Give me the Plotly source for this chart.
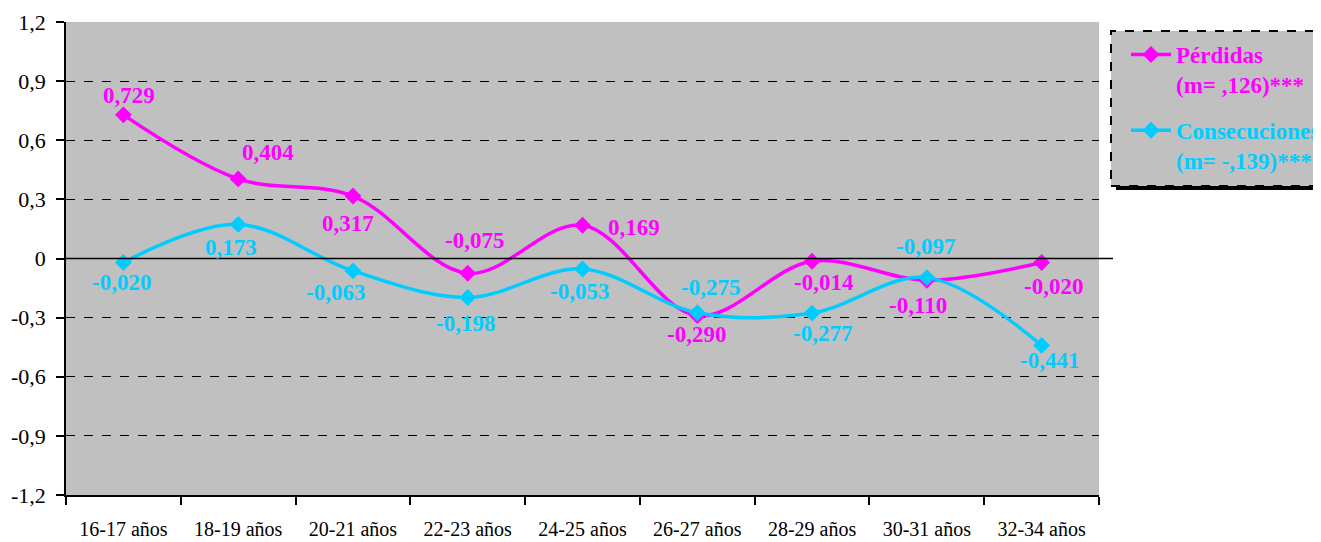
import plotly.graph_objects as go

categories = ["16-17 años", "18-19 años", "20-21 años", "22-23 años", "24-25 años",
              "26-27 años", "28-29 años", "30-31 años", "32-34 años"]
perdidas = [0.729, 0.404, 0.317, -0.075, 0.169, -0.290, -0.014, -0.110, -0.020]
consecuciones = [-0.020, 0.173, -0.063, -0.198, -0.053, -0.275, -0.277, -0.097, -0.441]
perdidas_labels = ["0,729", "0,404", "0,317", "-0,075", "0,169", "-0,290", "-0,014", "-0,110", "-0,020"]
consecuciones_labels = ["-0,020", "0,173", "-0,063", "-0,198", "-0,053", "-0,275", "-0,277", "-0,097", "-0,441"]
y_ticks = [-1.2, -0.9, -0.6, -0.3, 0, 0.3, 0.6, 0.9, 1.2]
y_tick_labels = ["-1,2", "-0,9", "-0,6", "-0,3", "0", "0,3", "0,6", "0,9", "1,2"]
name_perdidas = ["Pérdidas", "(m= ,126)***"]
name_consec = ["Consecuciones", "(m= -,139)***"]

# label offsets (pixels) - styling only
perd_shift = [(6, 19), (30, 26), (-5, -27), (7, 33), (51, -2), (-1, -19), (12, -21), (-9, -25), (12, -24)]
cons_shift = [(-2, -20), (-7, -23), (-17, -22), (-2, -26), (-3, -23), (13, 25), (10, -20), (-1, 31), (8, -15)]

MAG = "#FF00FF"
CYA = "#00CCFF"
FONT = "Liberation Serif"

def legend_name(lines, color):
    return "<br>".join(f'<span style="color:{color}"><b>{t}</b></span>' for t in lines)

fig = go.Figure()
fig.add_trace(go.Scatter(
    x=categories, y=perdidas, mode="lines+markers",
    name=legend_name(name_perdidas, MAG), legendgroup="p",
    line=dict(color=MAG, width=3.5, shape="spline", smoothing=1),
    marker=dict(symbol="diamond", size=13, color=MAG),
))
fig.add_trace(go.Scatter(
    x=categories, y=consecuciones, mode="lines+markers",
    name=legend_name(name_consec, CYA), legendgroup="c",
    line=dict(color=CYA, width=3.5, shape="spline", smoothing=1),
    marker=dict(symbol="diamond", size=13, color=CYA),
))

annotations = []
for vals, labs, shifts, col in [(perdidas, perdidas_labels, perd_shift, MAG),
                                (consecuciones, consecuciones_labels, cons_shift, CYA)]:
    for c, v, t, (dx, dy) in zip(categories, vals, labs, shifts):
        annotations.append(dict(
            x=c, y=v, xref="x", yref="y", text=t, showarrow=False,
            xshift=dx, yshift=dy,
            font=dict(family=FONT, size=23, color=col, weight="bold"),
        ))

# page has an 8px body margin: figure origin is at (8, 8) in the window
OFF = 8
W, H = 1321 - OFF, 542 - OFF
PL, PR, PT, PB = 66, 1099, 22, 495  # target plot area in window pixels
L, T = PL - OFF, PT - OFF
R = W - (PR - OFF)
B = H - (PB - OFF)
pw = PR - PL
ph = PB - PT

def px(xp):
    return (xp - PL) / pw

def py(yp):
    return (PB - yp) / ph

shapes = [
    # legend shadow
    dict(type="rect", xref="paper", yref="paper", x0=px(1116), x1=px(1400), y0=py(190), y1=py(36),
         fillcolor="black", line=dict(width=0), layer="above"),
    # legend box
    dict(type="rect", xref="paper", yref="paper", x0=px(1111), x1=px(1396), y0=py(186), y1=py(31),
         fillcolor="#C0C0C0", line=dict(color="black", width=2, dash="dash"), layer="above"),
    # zero line
    dict(type="line", xref="paper", yref="y", x0=0, x1=px(1113), y0=0, y1=0,
         line=dict(color="black", width=1.5), layer="above"),
]

fig.update_layout(
    width=W, height=H,
    margin=dict(l=L, r=R, t=T, b=B, pad=0, autoexpand=False),
    paper_bgcolor="white",
    plot_bgcolor="#C0C0C0",
    font=dict(family=FONT, size=20, color="black"),
    showlegend=True,
    legend=dict(x=px(1126), y=py(33), xanchor="left", yanchor="top",
                bgcolor="rgba(0,0,0,0)", borderwidth=0,
                font=dict(family=FONT, size=23),
                valign="top", tracegroupgap=13, itemwidth=40),
    annotations=annotations,
    shapes=shapes,
    xaxis=dict(type="category", range=[-0.5, 8.5], showgrid=False, zeroline=False,
               showline=True, linecolor="black", linewidth=1.5,
               ticks="outside", ticklen=8, tickcolor="black", tickwidth=1.5,
               tickson="boundaries", tickfont=dict(family=FONT, size=20), ticklabelstandoff=15,
               automargin=False),
    yaxis=dict(range=[-1.2, 1.2], tickvals=y_ticks, ticktext=y_tick_labels,
               showgrid=True, gridcolor="black", gridwidth=1, griddash="dash",
               zeroline=False, showline=True, linecolor="black", linewidth=1.5,
               ticks="outside", ticklen=8, tickcolor="black", tickwidth=1.5,
               ticklabelstandoff=6,
               tickfont=dict(family=FONT, size=22), automargin=False),
)

fig.write_html("out.html")
